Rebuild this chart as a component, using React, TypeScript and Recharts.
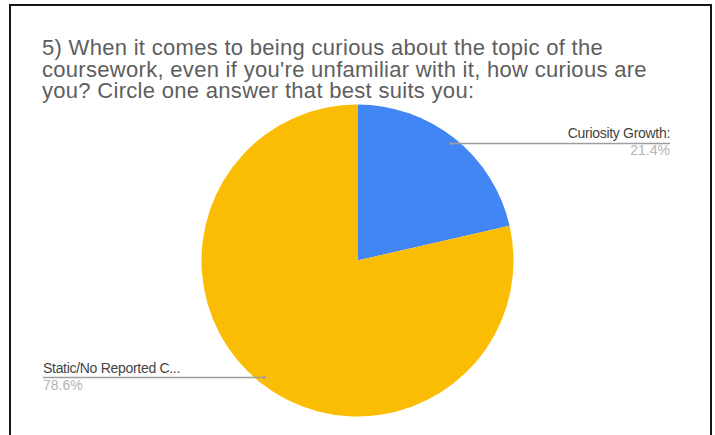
import React from "react";
import { PieChart, Pie, Cell } from "recharts";

const TITLE_LINES = [
  "5) When it comes to being curious about the topic of the",
  "coursework, even if you're unfamiliar with it, how curious are",
  "you? Circle one answer that best suits you:",
];
const CATEGORIES = ["Curiosity Growth:", "Static/No Reported C..."];
const VALUES = [3, 11];
const PERCENT_LABELS = ["21.4%", "78.6%"];
const COLORS = ["#4285F4", "#FBBC04"];

const data = CATEGORIES.map((name, i) => ({ name, value: VALUES[i], pct: PERCENT_LABELS[i] }));

const RAD = Math.PI / 180;
const FONT = "'Liberation Sans', Arial, Helvetica, sans-serif";

const renderLabel = (props: any) => {
  const { cx, cy, midAngle, outerRadius, index } = props;
  const r = outerRadius * 0.96;
  const x = cx + r * Math.cos(-midAngle * RAD);
  const y = cy + r * Math.sin(-midAngle * RAD);
  const right = x > cx;
  const endX = right ? 670 : 43;
  const d = data[index];
  return (
    <g>
      <line x1={x} y1={y} x2={endX} y2={y} stroke="#9e9e9e" strokeWidth={1.5} />
      <circle cx={x} cy={y} r={1.5} fill="#9e9e9e" />
      <text
        x={endX}
        y={y - 5}
        textAnchor={right ? "end" : "start"}
        fontFamily={FONT}
        fontSize={14}
        fill="#444444"
        letterSpacing={-0.3}
      >
        {d.name}
      </text>
      <text
        x={endX}
        y={y + 12}
        textAnchor={right ? "end" : "start"}
        fontFamily={FONT}
        fontSize={14}
        fill="#b5b5b5"
      >
        {d.pct}
      </text>
    </g>
  );
};

export default function App() {
  return (
    <div style={{ position: "absolute", left: 0, top: 0, width: 715, height: 435, background: "#fff", overflow: "hidden" }}>
      <style>{`body{margin:0}`}</style>
      <div
        style={{
          position: "absolute",
          left: 9,
          top: 4,
          width: 699,
          height: 440,
          borderTop: "2px solid #161616",
          borderLeft: "2px solid #161616",
          borderRight: "2px solid #161616",
        }}
      />
      <div
        style={{
          position: "absolute",
          left: 42,
          top: 37,
          fontFamily: FONT,
          fontSize: 22,
          lineHeight: "21.5px",
          letterSpacing: 0.3,
          color: "#5e5e5e",
          whiteSpace: "nowrap",
        }}
      >
        {TITLE_LINES.map((t, i) => (
          <div key={i}>{t}</div>
        ))}
      </div>
      <div style={{ position: "absolute", left: 0, top: 0 }}>
        <PieChart width={715} height={435} margin={{ top: 0, right: 0, bottom: 0, left: 0 }}>
          <Pie
            data={data}
            dataKey="value"
            nameKey="name"
            cx={357.5}
            cy={260.5}
            outerRadius={156}
            startAngle={90}
            endAngle={-270}
            stroke="none"
            isAnimationActive={false}
            label={renderLabel}
            labelLine={false}
          >
            {data.map((d, i) => (
              <Cell key={d.name} fill={COLORS[i]} />
            ))}
          </Pie>
        </PieChart>
      </div>
    </div>
  );
}
